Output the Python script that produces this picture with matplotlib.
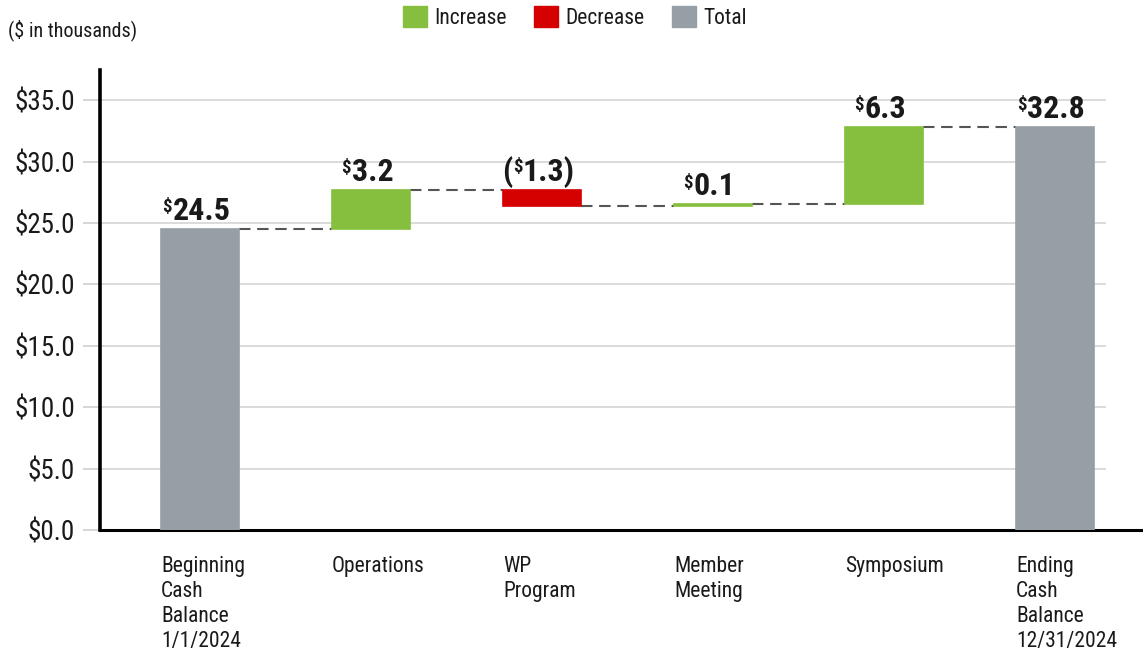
import matplotlib
matplotlib.use("Agg")
import matplotlib.pyplot as plt
from matplotlib import font_manager
from matplotlib.patches import Patch

# data ---------------------------------------------------------------
categories = ["Beginning\nCash\nBalance\n1/1/2024", "Operations", "WP\nProgram",
              "Member\nMeeting", "Symposium", "Ending\nCash\nBalance\n12/31/2024"]
amounts = [24.5, 3.2, -1.3, 0.1, 6.3, 32.8]
kinds = ["total", "change", "change", "change", "change", "total"]
yticks = [0, 5, 10, 15, 20, 25, 30, 35]
ytick_labels = ["$0.0", "$5.0", "$10.0", "$15.0", "$20.0", "$25.0", "$30.0", "$35.0"]
legend_labels = ["Increase", "Decrease", "Total"]

# pick a condensed font if there is one
names = {f.name for f in font_manager.fontManager.ttflist}
for fam in ["Liberation Sans Narrow", "Roboto Condensed", "Open Sans Condensed", "DejaVu Sans"]:
    if fam in names:
        break
plt.rcParams["font.family"] = fam
if fam == "DejaVu Sans":
    plt.rcParams["font.stretch"] = "condensed"

c_inc = "#86bf3e"
c_dec = "#d50000"
c_tot = "#969fa6"
txt = "#1a1a1a"

# waterfall geometry
running = 0
bottoms, heights, colors, levels = [], [], [], []
for a, k in zip(amounts, kinds):
    if k == "total":
        bottoms.append(0)
        heights.append(a)
        colors.append(c_tot)
        running = a
    else:
        bottoms.append(min(running, running + a))
        heights.append(abs(a))
        colors.append(c_inc if a > 0 else c_dec)
        running += a
    levels.append(running)

fig = plt.figure(figsize=(11.43, 6.6), dpi=100)
ax = fig.add_axes([100 / 1143, 1 - 530 / 660, 1043 / 1143, 460 / 660])

bw = 0.456
x = list(range(len(categories)))
ax.bar(x, heights, bw, bottom=bottoms, color=colors, edgecolor=colors, lw=1.2, zorder=3)

# dashed connectors
for i in range(len(x) - 1):
    ax.plot([i + bw / 2, i + 1 - bw / 2], [levels[i], levels[i]], color="#555555",
            lw=1.5, dashes=(5.5, 3.2), zorder=2)

# grid lines
ax.hlines(yticks[1:], -0.585, 5.3, color="#d4d4d4", lw=1.2, zorder=0)

ax.set_xlim(-0.585, 5.515)
ax.set_ylim(0, 37.45)

for s in ["top", "right"]:
    ax.spines[s].set_visible(False)
ax.spines["left"].set_linewidth(2.6)
ax.spines["bottom"].set_linewidth(2.2)
ax.spines["left"].set_color("black")
ax.spines["bottom"].set_color("black")

ax.set_yticks(yticks, ytick_labels)
ax.tick_params(axis="y", length=12, width=1.2, color="#cfcfcf", pad=6,
               labelsize=19.5, labelcolor=txt)

ax.set_xticks([i - bw / 2 for i in x], categories, ha="left", va="top",
              linespacing=1.24)
ax.tick_params(axis="x", length=0, pad=19, labelsize=15.5, labelcolor=txt)

# value labels with small raised $
for i, (a, b, h) in enumerate(zip(amounts, bottoms, heights)):
    top = b + h
    s = f"{abs(a):.1f}" + (")" if a < 0 else "")
    xoff = 5 if a < 0 else 1
    num = ax.annotate(s, xy=(i, top), xytext=(xoff, 6.5), textcoords="offset points",
                      ha="center", va="baseline", fontsize=23, fontweight="semibold",
                      color=txt)
    dol = ax.annotate("$", xy=(0, 1), xycoords=num, xytext=(-0.5, -1.5),
                      textcoords="offset points", ha="right", va="top",
                      fontsize=13.5, fontweight="semibold", color=txt)
    if a < 0:
        ax.annotate("(", xy=(0, 0), xycoords=(dol, num), xytext=(-0.5, 0),
                    textcoords="offset points", ha="right", va="bottom",
                    fontsize=23, fontweight="semibold", color=txt)

handles = [Patch(color=c) for c in [c_inc, c_dec, c_tot]]
fig.legend(handles, legend_labels, loc="center", bbox_to_anchor=(0.503, 0.973),
           ncol=3, frameon=False, fontsize=15.5, handlelength=1.1, handleheight=1.1,
           handletextpad=0.33, columnspacing=1.3, labelcolor=txt)

fig.text(8 / 1143, 1 - 30 / 660, "($ in thousands)", fontsize=14.5, va="center",
         ha="left", color=txt)

fig.savefig("out.png", dpi=100)
